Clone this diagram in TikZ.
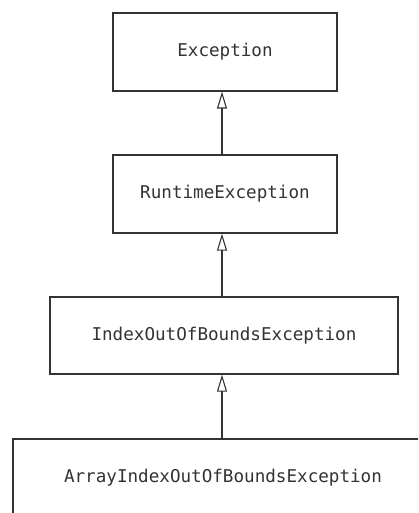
\documentclass[tikz,border=0pt]{standalone}
\usepackage{fontspec}
\setmonofont{DejaVu Sans Mono}
\usetikzlibrary{arrows.meta}
\definecolor{ink}{HTML}{333333}
\tikzset{
  cls/.style={draw=ink, line width=1.2bp, rectangle, inner sep=0pt,
    font=\ttfamily\fontsize{17.6bp}{20bp}\selectfont, text=ink},
  inherit/.style={draw=ink, line width=1.2bp,
    -{Triangle[open, length=17bp, width=10bp, line width=1.1bp]}}
}
\begin{document}
\begin{tikzpicture}[x=1bp, y=-1bp]
  \useasboundingbox (0,0) rectangle (418,513);
  \clip (0,0) rectangle (418,513);
  \fill[white] (0,0) rectangle (418,513);
  \node[cls, minimum width=224bp, minimum height=78bp] (exc) at (225,52) {Exception};
  \node[cls, minimum width=224bp, minimum height=78bp] (rte) at (225,194) {RuntimeException};
  \node[cls, minimum width=348bp, minimum height=77bp] (ioob) at (224,335.5) {IndexOutOfBoundsException};
  \node[cls, minimum width=420bp, minimum height=78bp] (aioob) at (223,478) {ArrayIndexOutOfBoundsException};
  \draw[inherit] ([xshift=-3bp]rte.north) -- ([xshift=-3bp]rte.north |- exc.south);
  \draw[inherit] ([xshift=-2bp]ioob.north) -- ([xshift=-2bp]ioob.north |- rte.south);
  \draw[inherit] ([xshift=-1bp]aioob.north) -- ([xshift=-1bp]aioob.north |- ioob.south);
\end{tikzpicture}
\end{document}
